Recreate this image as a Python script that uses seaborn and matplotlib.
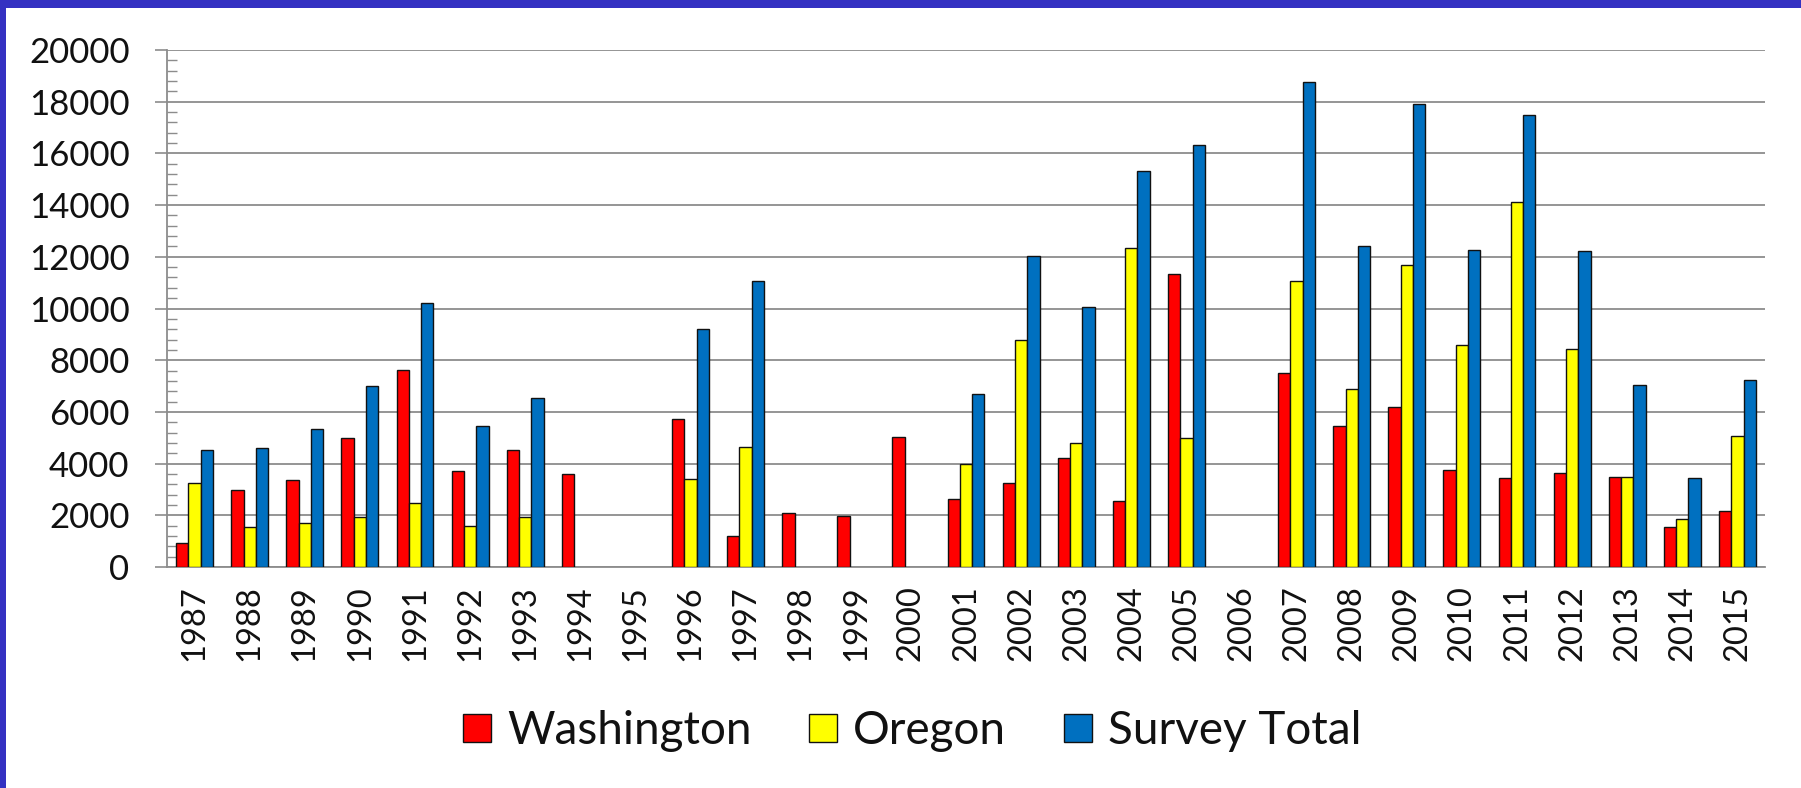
import numpy as np
import pandas as pd
import matplotlib
matplotlib.use("Agg")
import matplotlib.pyplot as plt
from matplotlib.patches import Rectangle
from matplotlib.ticker import MultipleLocator
import seaborn as sns

years = [str(y) for y in range(1987, 2016)]
series = ["Washington", "Oregon", "Survey Total"]
nan = np.nan

washington = [940, 2980, 3370, 5000, 7620, 3710, 4530, 3580, nan, 5720,
              1210, 2100, 1980, 5010, 2640, 3250, 4200, 2570, 11350, nan,
              7500, 5470, 6200, 3770, 3460, 3650, 3500, 1550, 2170]
oregon = [3260, 1540, 1690, 1950, 2490, 1600, 1950, nan, nan, 3390,
          4660, nan, nan, nan, 3980, 8790, 4810, 12340, 4980, nan,
          11080, 6880, 11690, 8570, 14120, 8430, 3500, 1870, 5060]
survey_total = [4530, 4590, 5340, 7020, 10200, 5470, 6550, nan, nan, 9200,
                11080, nan, nan, nan, 6690, 12020, 10060, 15330, 16340, nan,
                18780, 12430, 17920, 12280, 17490, 12220, 7030, 3460, 7230]

colors = ["#FF0000", "#FFFF00", "#0070C0"]

df = pd.DataFrame({
    "year": years * 3,
    "series": [s for s in series for _ in years],
    "value": washington + oregon + survey_total,
}).dropna()

sns.set_theme(style="white")
plt.rcParams["font.family"] = ["Lato", "DejaVu Sans"]

fig = plt.figure(figsize=(18.01, 7.88), dpi=100)
fig.patch.set_facecolor("white")
ax = fig.add_axes([167 / 1801, 1 - 567 / 788, (1765 - 167) / 1801, (567 - 50) / 788])

sns.barplot(data=df, x="year", y="value", hue="series", order=years,
            hue_order=series, palette=colors, saturation=1, width=0.67,
            errorbar=None, edgecolor="#111111", linewidth=1.0, ax=ax,
            zorder=3)

grid_c = "#8c8c8c"
ax.set_ylim(0, 20000)
ax.set_xlim(-0.5, len(years) - 0.5)
ax.yaxis.set_major_locator(MultipleLocator(2000))
ax.yaxis.set_minor_locator(MultipleLocator(400))
ax.grid(axis="y", which="major", color=grid_c, linewidth=1.3, zorder=0)
ax.set_axisbelow(True)

for side in ["top", "right"]:
    ax.spines[side].set_visible(False)
for side in ["left", "bottom"]:
    ax.spines[side].set_color(grid_c)
    ax.spines[side].set_linewidth(1.3)

ax.tick_params(axis="y", which="major", direction="out", length=9, width=1.2,
               color=grid_c, pad=18, labelsize=25, labelcolor="#111111", left=True)
ax.tick_params(axis="y", which="minor", direction="in", length=7.5, width=1.0,
               color=grid_c, left=True)
ax.tick_params(axis="x", which="major", length=0, pad=13, labelsize=23.5,
               labelcolor="#111111", labelrotation=90)

ax.set_xlabel("")
ax.set_ylabel("")

handles, labels = ax.get_legend_handles_labels()
if ax.legend_ is not None:
    ax.legend_.remove()
fig.legend(handles, labels, loc="center", bbox_to_anchor=(912 / 1801, 1 - 731 / 788),
           ncol=3, frameon=False, fontsize=33, handlelength=0.62,
           handleheight=0.58, handletextpad=0.35, columnspacing=1.25,
           labelcolor="#111111")

# blue frame on the top and left edges
border = "#3431C2"
fig.add_artist(Rectangle((0, 1 - 7.5 / 788), 1, 7.5 / 788, transform=fig.transFigure,
                         facecolor=border, edgecolor="none", zorder=10))
fig.add_artist(Rectangle((0, 0), 6 / 1801, 1, transform=fig.transFigure,
                         facecolor=border, edgecolor="none", zorder=10))

fig.savefig("out.png", dpi=100, facecolor="white")
